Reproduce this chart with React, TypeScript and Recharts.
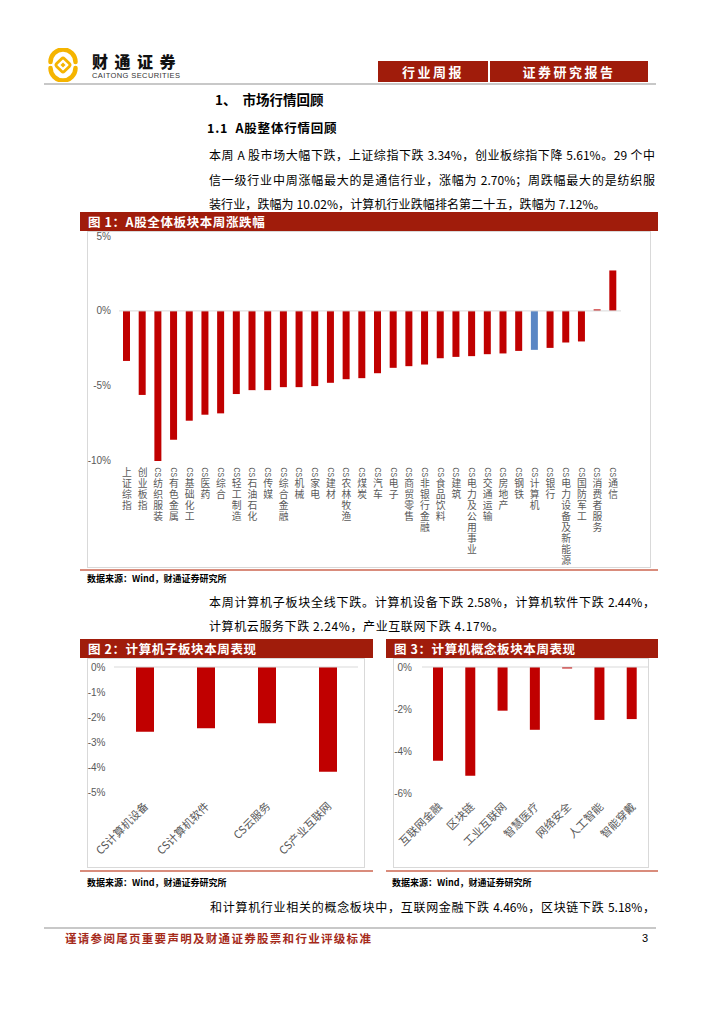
import React from 'react';
import { BarChart, Bar, XAxis, YAxis, ReferenceLine, Cell } from 'recharts';

// ---------- Data ----------
const sectorNames = [
  '上证综指', '创业板指', 'CS纺织服装', 'CS有色金属', 'CS基础化工', 'CS医药', 'CS综合', 'CS轻工制造',
  'CS石油石化', 'CS传媒', 'CS综合金融', 'CS机械', 'CS家电', 'CS建材', 'CS农林牧渔', 'CS煤炭',
  'CS汽车', 'CS电子', 'CS商贸零售', 'CS非银行金融', 'CS食品饮料', 'CS建筑', 'CS电力及公用事业', 'CS交通运输',
  'CS房地产', 'CS钢铁', 'CS计算机', 'CS银行', 'CS电力设备及新能源', 'CS国防军工', 'CS消费者服务', 'CS通信',
];
const sectorChanges = [
  -3.34, -5.61, -10.02, -8.6, -7.33, -6.93, -6.84, -5.55,
  -5.29, -5.29, -5.09, -5.09, -5.02, -4.8, -4.56, -4.49,
  -4.16, -3.8, -3.69, -3.58, -3.16, -3.07, -3.02, -2.89,
  -2.84, -2.67, -2.6, -2.47, -2.11, -2.04, 0.1, 2.7,
];
const highlightSector = 'CS计算机';
const sectorTicks = [5, 0, -5, -10];

const subNames = ['CS计算机设备', 'CS计算机软件', 'CS云服务', 'CS产业互联网'];
const subChanges = [-2.58, -2.44, -2.24, -4.17];
const subTicks = [0, -1, -2, -3, -4, -5];

const conceptNames = ['互联网金融', '区块链', '工业互联网', '智慧医疗', '网络安全', '人工智能', '智能穿戴'];
const conceptChanges = [-4.46, -5.18, -2.08, -2.99, -0.07, -2.52, -2.48];
const conceptTicks = [0, -2, -4, -6];

// ---------- Styles ----------
const RED = '#C00000';
const BLUE = '#5A86C4';
const BAR_RED = '#A01C0B';
const GREY_TXT = '#595959';
const BORDER = '#D9D9D9';
const SALMON = '#D98C7C';
const CJK = '"Noto Sans CJK SC", "Noto Sans", sans-serif';
const LATIN = '"Liberation Sans", Arial, sans-serif';
// Latin primary font keeps each stacked character's box compact; CJK glyphs fall back to Noto.
const STACK = '"Liberation Sans", "Noto Sans CJK SC", sans-serif';

const pct = (v: number) => `${v}%`;

// Excel-style stacked vertical label: "CS" turned sideways, Chinese characters upright.
const VerticalTick = (props: any) => {
  const { x, y, payload } = props;
  const label: string = String(payload.value);
  const hasCS = label.startsWith('CS');
  const chars = Array.from(hasCS ? label.slice(2) : label);
  const csTop = y + 6.5;
  const firstCenter = hasCS ? y + 22 : y + 11.5;
  const pitch = 11;
  return (
    <g>
      {hasCS && (
        <text
          x={x}
          y={csTop}
          transform={`rotate(90 ${x} ${csTop})`}
          textAnchor="start"
          dominantBaseline="central"
          fontSize={9}
          textLength={9.5}
          lengthAdjust="spacingAndGlyphs"
          fill={GREY_TXT}
          fontFamily={LATIN}
        >
          CS
        </text>
      )}
      {chars.map((c, i) => (
        <text
          key={i}
          x={x}
          y={firstCenter + i * pitch}
          textAnchor="middle"
          dominantBaseline="central"
          fontSize={9.8}
          fill={GREY_TXT}
          fontFamily={STACK}
        >
          {c}
        </text>
      ))}
    </g>
  );
};

const DiagTick = (props: any) => {
  const { x, y, payload } = props;
  const ax = x + 1;
  const ay = y + 11;
  return (
    <text
      x={ax}
      y={ay}
      transform={`rotate(-45 ${ax} ${ay})`}
      textAnchor="end"
      dominantBaseline="central"
      fontSize={11}
      fill={GREY_TXT}
      fontFamily={CJK}
    >
      {payload.value}
    </text>
  );
};

const abs = (left: number, top: number, extra: React.CSSProperties = {}): React.CSSProperties => ({
  position: 'absolute',
  left,
  top,
  ...extra,
});

const Line = ({ left, cy, size = 12, width, justify, children, style }: any) => (
  <div
    style={abs(left, cy - size / 2, {
      fontSize: size,
      lineHeight: `${size}px`,
      fontFamily: CJK,
      color: '#000',
      whiteSpace: justify ? 'normal' : 'nowrap',
      width: width,
      textAlign: justify ? 'justify' : 'left',
      textAlignLast: justify ? 'justify' : 'auto',
      ...style,
    } as React.CSSProperties)}
  >
    {children}
  </div>
);

const TitleBar = ({ left, top, width, text }: any) => (
  <div
    style={abs(left, top, {
      width,
      height: 19,
      background: BAR_RED,
      color: '#fff',
      fontFamily: CJK,
      fontWeight: 700,
      fontSize: 12.5,
      lineHeight: '19px',
      paddingLeft: 8,
      boxSizing: 'border-box',
      letterSpacing: 0.6,
      whiteSpace: 'nowrap',
    })}
  >
    {text}
  </div>
);

const Source = ({ left, cy }: any) => (
  <div
    style={abs(left, cy - 4.5, {
      fontSize: 9,
      lineHeight: '9px',
      fontWeight: 700,
      fontFamily: CJK,
      color: '#000',
      whiteSpace: 'nowrap',
    })}
  >
    数据来源：Wind，财通证券研究所
  </div>
);

export default function App() {
  const data1 = sectorNames.map((name, i) => ({ name, value: sectorChanges[i] }));
  const data2 = subNames.map((name, i) => ({ name, value: subChanges[i] }));
  const data3 = conceptNames.map((name, i) => ({ name, value: conceptChanges[i] }));

  return (
    <div
      style={{
        position: 'absolute',
        left: 0,
        top: 0,
        width: 724,
        height: 1024,
        overflow: 'hidden',
        background: '#fff',
      }}
    >
      {/* ---------- Header ---------- */}
      <svg style={abs(46, 48)} width={34} height={34} viewBox="0 0 34 34">
        <path d="M4.5 14 A12.5 12.5 0 0 1 29.5 14" stroke="#F5B400" strokeWidth={4.5} fill="none" strokeLinecap="round" />
        <path d="M4.5 20 A12.5 12.5 0 0 0 29.5 20" stroke="#F5B400" strokeWidth={4.5} fill="none" strokeLinecap="round" />
        <rect x={11.5} y={11.5} width={11} height={11} rx={2} transform="rotate(45 17 17)" stroke="#F5B400" strokeWidth={2.8} fill="none" />
        <rect x={15.2} y={15.2} width={3.6} height={3.6} transform="rotate(45 17 17)" fill="#F5B400" />
      </svg>
      <div
        style={abs(92, 53, {
          fontSize: 16,
          lineHeight: '16px',
          fontWeight: 900,
          fontFamily: CJK,
          letterSpacing: 6.5,
          color: '#111',
          whiteSpace: 'nowrap',
        })}
      >
        财通证券
      </div>
      <div
        style={abs(92, 72, {
          fontSize: 7.5,
          lineHeight: '7px',
          fontFamily: LATIN,
          color: '#333',
          letterSpacing: 0.4,
          whiteSpace: 'nowrap',
        })}
      >
        CAITONG SECURITIES
      </div>
      <div
        style={abs(378, 61, {
          width: 110,
          height: 21,
          background: BAR_RED,
          color: '#fff',
          fontFamily: CJK,
          fontWeight: 700,
          fontSize: 13,
          lineHeight: '21px',
          textAlign: 'center',
          letterSpacing: 2.5,
        })}
      >
        行业周报
      </div>
      <div
        style={abs(490, 61, {
          width: 158,
          height: 21,
          background: BAR_RED,
          color: '#fff',
          fontFamily: CJK,
          fontWeight: 700,
          fontSize: 13,
          lineHeight: '21px',
          textAlign: 'center',
          letterSpacing: 2.5,
        })}
      >
        证券研究报告
      </div>
      <div style={abs(44, 83, { width: 612, height: 2, background: '#C8C8C8' })} />

      {/* ---------- Headings & paragraph ---------- */}
      <Line left={215} cy={100} size={13.5} style={{ fontWeight: 700 }}>
        1、&nbsp;&nbsp;市场行情回顾
      </Line>
      <Line left={207} cy={128} size={12.5} style={{ fontWeight: 700, letterSpacing: 0.8 }}>
        1.1&nbsp;&nbsp;A股整体行情回顾
      </Line>
      <Line left={209} cy={155} width={446} justify>
        本周 A 股市场大幅下跌，上证综指下跌 3.34%，创业板综指下降 5.61%。29 个中
      </Line>
      <Line left={209} cy={180} width={446} justify>
        信一级行业中周涨幅最大的是通信行业，涨幅为 2.70%；周跌幅最大的是纺织服
      </Line>
      <Line left={209} cy={204} style={{ letterSpacing: 0.1 }}>
        装行业，跌幅为 10.02%，计算机行业跌幅排名第二十五，跌幅为 7.12%。
      </Line>

      {/* ---------- Figure 1 ---------- */}
      <TitleBar left={80} top={212} width={578} text="图 1：A股全体板块本周涨跌幅" />
      <div style={abs(87, 231, { width: 564, height: 337, border: `1px solid ${BORDER}`, boxSizing: 'border-box' })} />
      <div style={abs(87, 231)}>
        <BarChart width={564} height={336} data={data1} margin={{ top: 5, right: 30, left: 0, bottom: 0 }}>
          <XAxis
            dataKey="name"
            interval={0}
            axisLine={false}
            tickLine={false}
            tickSize={0}
            tickMargin={0}
            height={106}
            tick={(p: any) => <VerticalTick {...p} />}
          />
          <YAxis
            type="number"
            domain={[-10, 5]}
            ticks={sectorTicks}
            interval={0}
            tickFormatter={pct}
            axisLine={false}
            tickLine={false}
            tickSize={0}
            tickMargin={8}
            width={32}
            tick={{ fontSize: 10, fill: GREY_TXT, fontFamily: LATIN }}
          />
          <ReferenceLine y={0} stroke={BORDER} strokeWidth={1} />
          <Bar dataKey="value" barSize={7} isAnimationActive={false}>
            {data1.map((d) => (
              <Cell key={d.name} fill={d.name === highlightSector ? BLUE : RED} />
            ))}
          </Bar>
        </BarChart>
      </div>
      <div style={abs(80, 569, { width: 578, height: 2, background: SALMON })} />
      <Source left={87} cy={578} />

      {/* ---------- Paragraph 2 ---------- */}
      <Line left={209} cy={602} width={446} justify>
        本周计算机子板块全线下跌。计算机设备下跌 2.58%，计算机软件下跌 2.44%，
      </Line>
      <Line left={209} cy={626} style={{ letterSpacing: 0.6 }}>
        计算机云服务下跌 2.24%，产业互联网下跌 4.17%。
      </Line>

      {/* ---------- Figure 2 ---------- */}
      <TitleBar left={80} top={639} width={293} text="图 2：计算机子板块本周表现" />
      <div style={abs(87, 658, { width: 278, height: 210, border: `1px solid ${BORDER}`, boxSizing: 'border-box' })} />
      <div style={abs(87, 659)}>
        <BarChart width={278} height={209} data={data2} margin={{ top: 8, right: 7, left: 0, bottom: 0 }}>
          <XAxis
            dataKey="name"
            interval={0}
            axisLine={false}
            tickLine={false}
            tickSize={0}
            tickMargin={0}
            height={75.5}
            tick={(p: any) => <DiagTick {...p} />}
          />
          <YAxis
            type="number"
            domain={[-5, 0]}
            ticks={subTicks}
            interval={0}
            tickFormatter={pct}
            axisLine={false}
            tickLine={false}
            tickSize={0}
            tickMargin={8.5}
            width={27}
            tick={{ fontSize: 10, fill: GREY_TXT, fontFamily: LATIN }}
          />
          <ReferenceLine y={0} stroke={BORDER} strokeWidth={1} />
          <Bar dataKey="value" barSize={18} fill={RED} isAnimationActive={false} />
        </BarChart>
      </div>
      <div style={abs(80, 870, { width: 293, height: 2, background: SALMON })} />
      <Source left={87} cy={882} />

      {/* ---------- Figure 3 ---------- */}
      <TitleBar left={386} top={639} width={272} text="图 3：计算机概念板块本周表现" />
      <div style={abs(393, 658, { width: 256, height: 210, border: `1px solid ${BORDER}`, boxSizing: 'border-box' })} />
      <div style={abs(393, 659)}>
        <BarChart width={256} height={209} data={data3} margin={{ top: 8, right: 1, left: 0, bottom: 0 }}>
          <XAxis
            dataKey="name"
            interval={0}
            axisLine={false}
            tickLine={false}
            tickSize={0}
            tickMargin={0}
            height={75}
            tick={(p: any) => <DiagTick {...p} />}
          />
          <YAxis
            type="number"
            domain={[-6, 0]}
            ticks={conceptTicks}
            interval={0}
            tickFormatter={pct}
            axisLine={false}
            tickLine={false}
            tickSize={0}
            tickMargin={10}
            width={29}
            tick={{ fontSize: 10, fill: GREY_TXT, fontFamily: LATIN }}
          />
          <ReferenceLine y={0} stroke={BORDER} strokeWidth={1} />
          <Bar dataKey="value" barSize={10} fill={RED} isAnimationActive={false} />
        </BarChart>
      </div>
      <div style={abs(386, 870, { width: 272, height: 2, background: SALMON })} />
      <Source left={392} cy={882} />

      {/* ---------- Paragraph 3 ---------- */}
      <Line left={210} cy={907} width={445} justify>
        和计算机行业相关的概念板块中，互联网金融下跌 4.46%，区块链下跌 5.18%，
      </Line>

      {/* ---------- Footer ---------- */}
      <div style={abs(44, 927, { width: 612, height: 2, background: '#C8C8C8' })} />
      <div
        style={abs(65, 932, {
          fontSize: 11.5,
          lineHeight: '12px',
          fontWeight: 700,
          fontFamily: CJK,
          color: '#A52A1A',
          letterSpacing: 1.3,
          whiteSpace: 'nowrap',
        })}
      >
        谨请参阅尾页重要声明及财通证券股票和行业评级标准
      </div>
      <div
        style={abs(642, 932, {
          fontSize: 11,
          lineHeight: '12px',
          fontFamily: LATIN,
          color: '#000',
        })}
      >
        3
      </div>
    </div>
  );
}
